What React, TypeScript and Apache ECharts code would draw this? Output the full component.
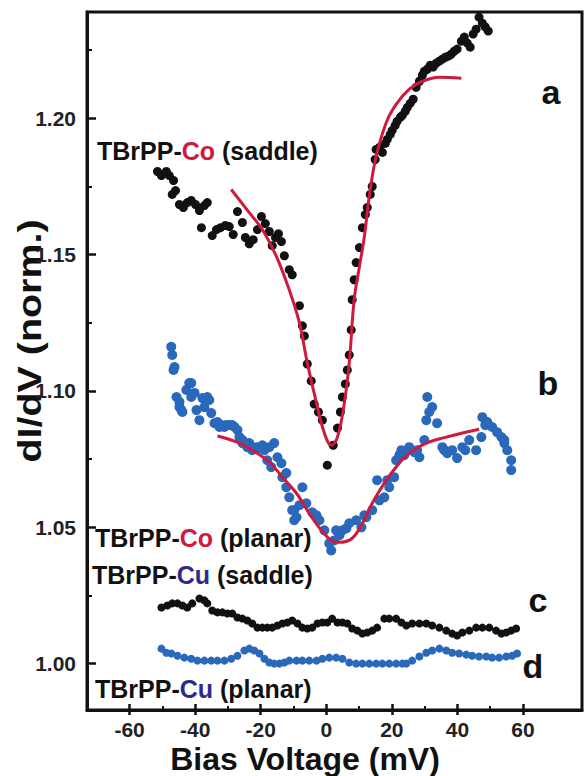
import React, { useEffect, useRef } from "react";
import * as echarts from "echarts";

// ---- axis ticks ----
const xMajorTicks = [-60, -40, -20, 0, 20, 40, 60];
const xMinorTicks = [-50, -30, -10, 10, 30, 50];
const yMajorTicks = [1.0, 1.05, 1.1, 1.15, 1.2];
const yMinorTicks = [1.025, 1.075, 1.125, 1.175, 1.225];

// ---- series a: TBrPP-Co (saddle) ----
const aBias = [-51.5,-50.3,-48.8,-47.9,-47.0,-46.6,-46.0,-44.8,-43.6,-42.4,-41.2,-39.9,-38.7,-38.1,-37.2,-36.3,-34.8,-33.5,-32.3,-30.8,-29.6,-28.4,-27.1,-25.6,-24.7,-23.5,-22.3,-21.0,-19.8,-18.6,-17.4,-16.5,-15.5,-14.6,-13.7,-12.8,-11.3,-10.4,-8.2,-7.3,-6.7,-5.8,-4.6,-3.7,-2.4,-1.2,0.3,2.1,3.4,4.3,4.9,5.8,6.4,7.0,7.6,7.9,8.5,9.1,10.1,11.0,11.9,12.5,13.4,14.0,14.9,15.2,16.2,17.1,18.0,18.6,19.5,20.1,21.0,21.6,22.6,23.2,24.1,24.7,25.6,26.5,27.4,28.4,29.3,29.9,30.8,31.7,32.6,33.5,34.5,35.4,36.3,37.2,38.1,39.0,39.9,41.2,42.1,43.0,43.9,44.8,45.7,46.6,47.6,48.5,49.4];
const aDidv = [1.1805,1.1790,1.1805,1.1790,1.1721,1.1772,1.1735,1.1684,1.1673,1.1691,1.1699,1.1684,1.1662,1.1599,1.1680,1.1691,1.1570,1.1592,1.1599,1.1607,1.1603,1.1574,1.1658,1.1618,1.1563,1.1540,1.1555,1.1592,1.1640,1.1614,1.1585,1.1533,1.1563,1.1577,1.1548,1.1496,1.1445,1.1426,1.1313,1.1239,1.1202,1.1099,1.1037,1.0952,1.0923,1.0893,1.0728,1.0801,1.0864,1.0923,1.0978,1.1026,1.1077,1.1132,1.1224,1.1335,1.1408,1.1471,1.1526,1.1599,1.1647,1.1673,1.1721,1.1750,1.1849,1.1886,1.1893,1.1875,1.1908,1.1923,1.1941,1.1956,1.1974,1.1989,1.2004,1.2011,1.2026,1.2040,1.2055,1.2070,1.2114,1.2136,1.2158,1.2173,1.2180,1.2195,1.2188,1.2202,1.2210,1.2217,1.2224,1.2228,1.2235,1.2246,1.2254,1.2283,1.2298,1.2276,1.2261,1.2309,1.2327,1.2371,1.2349,1.2335,1.2320];
const aFitBias = [-29.0,-23.5,-19.5,-15.2,-11.3,-8.2,-5.8,-3.0,-0.6,1.5,3.4,5.5,7.0,8.5,10.1,11.6,13.1,15.2,18.3,21.3,25.3,29.3,34.5,41.2];
const aFitDidv = [1.1739,1.1654,1.1592,1.1493,1.1371,1.1250,1.1103,1.0956,1.0846,1.0801,1.0831,1.0956,1.1103,1.1335,1.1456,1.1566,1.1713,1.1860,1.1985,1.2051,1.2107,1.2136,1.2151,1.2147];

// ---- series b: TBrPP-Co (planar) ----
const bBias = [-47.3,-47.0,-46.6,-46.3,-45.7,-44.8,-44.8,-44.2,-43.9,-42.7,-41.8,-41.2,-41.2,-40.2,-39.6,-38.7,-37.8,-37.2,-36.3,-35.7,-35.1,-34.1,-33.2,-32.6,-32.0,-31.1,-30.5,-29.6,-28.7,-28.0,-27.1,-26.5,-25.6,-25.6,-24.1,-23.5,-22.6,-21.3,-20.4,-19.5,-18.9,-18.0,-17.4,-16.8,-15.9,-14.9,-13.7,-13.4,-12.2,-12.2,-11.3,-10.4,-9.8,-9.8,-9.1,-8.2,-7.3,-6.1,-4.3,-3.0,-2.1,-0.6,0.9,1.5,2.4,3.0,4.0,4.9,6.1,7.0,9.1,10.7,11.6,12.2,14.0,15.5,16.2,17.7,18.6,19.2,20.7,21.3,22.3,22.9,23.8,25.3,26.8,27.7,28.4,29.9,30.5,30.8,31.4,32.3,33.8,35.4,36.0,36.9,38.4,39.9,41.5,42.4,43.6,45.7,47.3,47.6,48.5,49.1,50.6,52.1,53.4,54.3,54.3,55.2,56.4,56.4];
const bDidv = [1.1162,1.1132,1.1077,1.1088,1.0978,1.0941,1.0960,1.0930,1.0923,1.1004,1.1029,1.1029,1.0978,1.0993,1.0930,1.0893,1.0974,1.0941,1.0978,1.0967,1.0919,1.0882,1.0886,1.0868,1.0875,1.0868,1.0875,1.0875,1.0875,1.0868,1.0857,1.0831,1.0809,1.0820,1.0794,1.0809,1.0783,1.0794,1.0790,1.0801,1.0783,1.0746,1.0794,1.0721,1.0809,1.0757,1.0735,1.0684,1.0647,1.0699,1.0610,1.0563,1.0563,1.0526,1.0537,1.0581,1.0647,1.0588,1.0555,1.0544,1.0526,1.0489,1.0441,1.0415,1.0452,1.0489,1.0471,1.0489,1.0496,1.0515,1.0526,1.0500,1.0544,1.0537,1.0563,1.0673,1.0599,1.0610,1.0673,1.0647,1.0684,1.0746,1.0765,1.0783,1.0765,1.0794,1.0776,1.0783,1.0757,1.0820,1.0893,1.0978,1.0923,1.0941,1.0882,1.0794,1.0783,1.0772,1.0783,1.0754,1.0794,1.0783,1.0820,1.0783,1.0831,1.0904,1.0875,1.0886,1.0868,1.0849,1.0831,1.0809,1.0820,1.0783,1.0746,1.0710];
const bFitBias = [-33.2,-27.4,-22.6,-17.4,-13.4,-9.1,-5.2,-1.5,1.5,4.0,7.9,11.0,14.0,17.7,21.3,25.3,30.5,36.6,41.5,46.6];
const bFitDidv = [1.0835,1.0813,1.0783,1.0739,1.0684,1.0625,1.0551,1.0489,1.0452,1.0445,1.0460,1.0515,1.0588,1.0662,1.0721,1.0772,1.0809,1.0831,1.0846,1.0860];

// ---- series c: TBrPP-Cu (saddle) ----
const cBias = [-50.3,-48.5,-47.0,-45.4,-43.9,-42.4,-40.9,-38.7,-37.2,-36.3,-34.8,-33.2,-31.7,-30.2,-28.7,-27.1,-25.6,-24.1,-22.6,-21.0,-19.5,-18.0,-16.5,-14.9,-13.4,-11.9,-10.4,-8.8,-7.3,-5.8,-4.3,-2.7,-1.2,0.3,1.8,3.4,4.9,6.4,7.9,9.5,11.0,12.5,14.0,15.5,17.7,19.2,21.3,22.9,24.4,26.2,28.4,30.5,32.3,34.5,36.6,38.4,39.9,41.5,43.6,45.7,47.6,49.7,51.8,53.4,54.9,56.4,57.9];
const cDidv = [1.0206,1.0213,1.0221,1.0221,1.0213,1.0206,1.0221,1.0239,1.0232,1.0221,1.0195,1.0188,1.0188,1.0184,1.0184,1.0169,1.0165,1.0158,1.0147,1.0132,1.0132,1.0132,1.0132,1.0140,1.0147,1.0151,1.0158,1.0147,1.0132,1.0129,1.0132,1.0147,1.0151,1.0151,1.0165,1.0151,1.0151,1.0147,1.0129,1.0121,1.0110,1.0114,1.0121,1.0132,1.0165,1.0165,1.0165,1.0151,1.0140,1.0147,1.0147,1.0147,1.0140,1.0132,1.0121,1.0110,1.0103,1.0114,1.0121,1.0132,1.0132,1.0132,1.0121,1.0110,1.0114,1.0121,1.0129];

// ---- series d: TBrPP-Cu (planar) ----
const dBias = [-50.3,-48.8,-47.3,-45.4,-43.3,-41.2,-39.3,-37.2,-35.1,-33.2,-31.1,-29.0,-27.1,-25.0,-23.5,-22.0,-20.4,-18.9,-17.4,-15.9,-14.3,-12.8,-11.3,-9.1,-7.3,-5.2,-3.0,-1.2,0.9,3.0,4.9,7.0,9.1,11.0,13.1,15.2,17.1,19.2,21.3,23.2,24.4,26.2,28.4,30.5,32.3,34.5,36.6,38.4,40.5,42.7,44.5,46.6,48.8,50.6,52.7,54.9,56.7,58.2];
const dDidv = [1.0055,1.0040,1.0037,1.0029,1.0022,1.0018,1.0011,1.0011,1.0011,1.0011,1.0011,1.0018,1.0029,1.0048,1.0055,1.0048,1.0037,1.0018,1.0004,1.0000,1.0000,1.0004,1.0011,1.0011,1.0011,1.0011,1.0011,1.0018,1.0022,1.0022,1.0018,1.0004,1.0000,1.0000,1.0000,1.0000,1.0000,1.0000,1.0000,1.0000,1.0000,1.0011,1.0026,1.0040,1.0048,1.0055,1.0048,1.0040,1.0037,1.0033,1.0029,1.0026,1.0026,1.0022,1.0022,1.0026,1.0029,1.0037];

const zip = (xs: number[], ys: number[]) => xs.map((x, i) => [x, ys[i]]);

const FONT = "'Liberation Sans', Arial, Helvetica, sans-serif";
const BLACK = "#111111";
const BLUE = "#2a68bb";
const RED = "#cf1a3c";
const NAVY = "#2b2b8c";

export default function App() {
  const ref = useRef<HTMLDivElement>(null);
  useEffect(() => {
    if (!ref.current) return;
    const chart = echarts.init(ref.current, null, { renderer: "svg" });
    const xBase = { type: "value", min: -73, max: 78, splitLine: { show: false } };
    const yBase = { type: "value", min: 0.983, max: 1.239, splitLine: { show: false } };
    const annot = (x: number, y: number, metal: string, mcol: string, shape: string) => ({
      type: "text",
      x,
      y,
      style: {
        text: `{k|TBrPP-}{m|${metal}}{k| (${shape})}`,
        textVerticalAlign: "middle",
        textAlign: "left",
        fontSize: 25,
        fontWeight: "bold",
        fontFamily: FONT,
        rich: {
          k: { fill: BLACK, fontSize: 25, fontWeight: "bold", fontFamily: FONT },
          m: { fill: mcol, fontSize: 25, fontWeight: "bold", fontFamily: FONT },
        },
      },
    });
    const letter = (x: number, y: number, t: string) => ({
      type: "text",
      x,
      y,
      style: {
        text: t,
        fill: BLACK,
        fontSize: 34,
        fontWeight: "bold",
        fontFamily: FONT,
        textAlign: "center",
        textVerticalAlign: "middle",
      },
    });
    const dots = (xs: number[], ys: number[], color: string, size: number) => ({
      type: "scatter",
      data: zip(xs, ys),
      symbol: "circle",
      symbolSize: size,
      itemStyle: { color, opacity: 1 },
    });
    chart.setOption({
      animation: false,
      backgroundColor: "#ffffff",
      grid: {
        left: 87,
        right: 2,
        top: 12,
        bottom: 66,
        show: true,
        borderColor: BLACK,
        borderWidth: 3,
        backgroundColor: "transparent",
      },
      xAxis: [
        {
          ...xBase,
          position: "bottom",
          axisLine: { show: true, onZero: false, lineStyle: { color: BLACK, width: 3 } },
          axisTick: { show: true, inside: true, length: 6, customValues: xMajorTicks, lineStyle: { color: BLACK, width: 2.5 } },
          axisLabel: {
            customValues: xMajorTicks,
            margin: 9,
            fontSize: 21,
            fontWeight: "bold",
            fontFamily: FONT,
            color: "#222",
          },
        },
        {
          ...xBase,
          position: "bottom",
          axisLine: { show: false, onZero: false },
          axisTick: { show: true, inside: false, length: 5, customValues: xMajorTicks, lineStyle: { color: BLACK, width: 2.5 } },
          axisLabel: { show: false },
        },
        {
          ...xBase,
          position: "bottom",
          axisLine: { show: false, onZero: false },
          axisTick: { show: true, inside: true, length: 4, customValues: xMinorTicks, lineStyle: { color: BLACK, width: 2 } },
          axisLabel: { show: false },
        },
      ],
      yAxis: [
        {
          ...yBase,
          position: "left",
          axisLine: { show: true, onZero: false, lineStyle: { color: BLACK, width: 3 } },
          axisTick: { show: true, inside: true, length: 9, customValues: yMajorTicks, lineStyle: { color: BLACK, width: 2.5 } },
          axisLabel: {
            customValues: yMajorTicks,
            margin: 11,
            fontSize: 21,
            fontWeight: "bold",
            fontFamily: FONT,
            color: "#222",
            formatter: (v: number) => v.toFixed(2),
          },
        },
        {
          ...yBase,
          position: "left",
          axisLine: { show: false, onZero: false },
          axisTick: { show: true, inside: true, length: 5, customValues: yMinorTicks, lineStyle: { color: BLACK, width: 2 } },
          axisLabel: { show: false },
        },
      ],
      series: [
        dots(aBias, aDidv, BLACK, 9),
        dots(bBias, bDidv, BLUE, 10),
        dots(cBias, cDidv, BLACK, 8),
        dots(dBias, dDidv, BLUE, 8),
        {
          type: "line",
          data: zip(aFitBias, aFitDidv),
          smooth: 0.4,
          showSymbol: false,
          lineStyle: { color: RED, width: 3 },
          z: 5,
        },
        {
          type: "line",
          data: zip(bFitBias, bFitDidv),
          smooth: 0.4,
          showSymbol: false,
          lineStyle: { color: RED, width: 3 },
          z: 5,
        },
      ],
      graphic: [
        annot(97, 151, "Co", RED, "saddle"),
        annot(95, 538, "Co", RED, "planar"),
        annot(92, 575, "Cu", NAVY, "saddle"),
        annot(95, 689, "Cu", NAVY, "planar"),
        letter(551, 92, "a"),
        letter(548, 383, "b"),
        letter(538, 600, "c"),
        letter(533, 666, "d"),
        {
          type: "text",
          x: 305,
          y: 759,
          style: {
            text: "Bias Voltage (mV)",
            fill: BLACK,
            fontSize: 32,
            fontWeight: "bold",
            fontFamily: FONT,
            textAlign: "center",
            textVerticalAlign: "middle",
          },
        },
        {
          type: "text",
          x: 29,
          y: 341,
          rotation: Math.PI / 2,
          scaleX: 1.16,
          style: {
            text: "dI/dV (norm.)",
            fill: BLACK,
            fontSize: 34,
            fontWeight: "bold",
            fontFamily: FONT,
            textAlign: "center",
            textVerticalAlign: "middle",
          },
        },
      ],
    });
    return () => chart.dispose();
  }, []);
  return (
    <div
      ref={ref}
      style={{ position: "fixed", left: 0, top: 0, width: 584, height: 776, background: "#fff" }}
    />
  );
}
